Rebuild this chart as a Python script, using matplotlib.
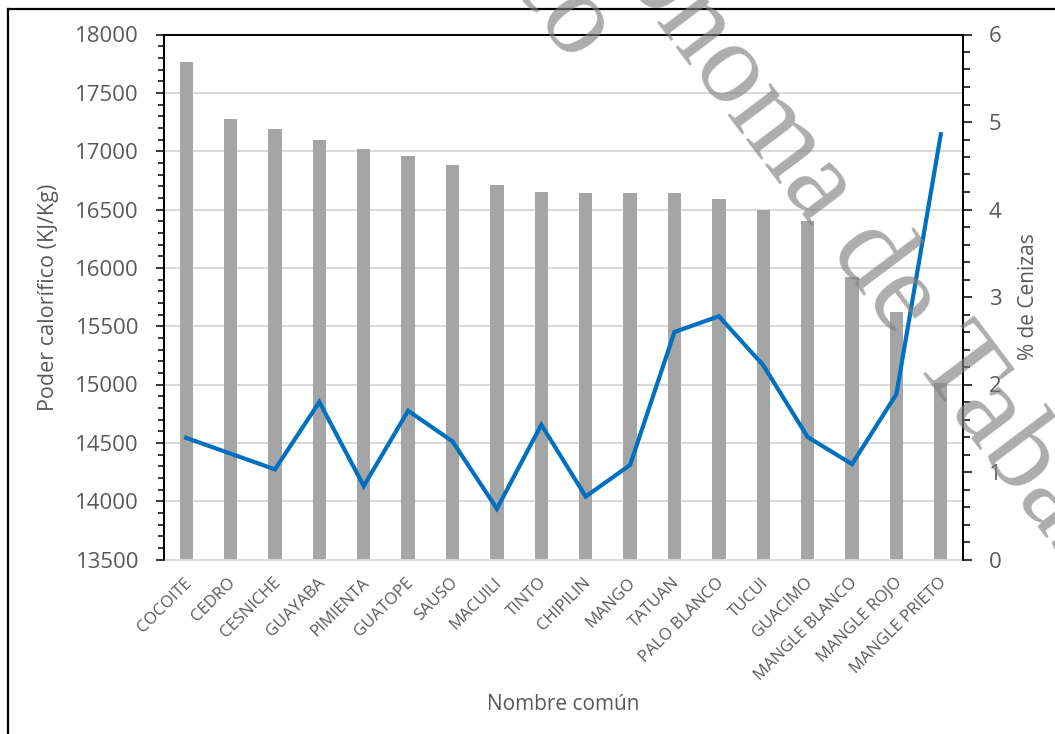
import numpy as np
import matplotlib.pyplot as plt
from matplotlib.lines import Line2D
from matplotlib.ticker import MultipleLocator

plt.rcParams['font.family'] = ['Open Sans', 'DejaVu Sans']

especies = ['COCOITE', 'CEDRO', 'CESNICHE', 'GUAYABA', 'PIMIENTA', 'GUATOPE',
            'SAUSO', 'MACUILI', 'TINTO', 'CHIPILIN', 'MANGO', 'TATUAN',
            'PALO BLANCO', 'TUCUI', 'GUACIMO', 'MANGLE BLANCO', 'MANGLE ROJO',
            'MANGLE PRIETO']
poder_calorifico = [17762, 17273, 17187, 17096, 17019, 16959, 16882, 16713,
                    16653, 16644, 16644, 16644, 16593, 16498, 16399, 15919,
                    15619, 15010]
cenizas = [1.39, 1.21, 1.03, 1.80, 0.84, 1.70, 1.35, 0.58, 1.54, 0.72, 1.08,
           2.60, 2.78, 2.22, 1.40, 1.09, 1.89, 4.86]

gris_texto = '#595959'
gris_grid = '#D9D9D9'

W, H = 1055, 734
fig = plt.figure(figsize=(W / 100, H / 100), dpi=100)
ax = fig.add_axes([164 / W, 1 - 559.5 / H, (963 - 164) / W, (559.5 - 34.5) / H])

x = np.arange(len(especies))
ax.bar(x, poder_calorifico, width=0.3, color='#A5A5A5', zorder=2)
ax.set_ylim(13500, 18000)
ax.set_xlim(-0.5, len(especies) - 0.5)
ax.yaxis.set_major_locator(MultipleLocator(500))
ax.yaxis.set_minor_locator(MultipleLocator(100))
ax.grid(axis='y', color=gris_grid, linewidth=1.4, zorder=0)
ax.set_axisbelow(True)

ax.set_xticks(x)
ax.set_xticklabels([])
ax.tick_params(axis='x', length=0)
for xi, nombre in zip(x, especies):
    ax.annotate(nombre, xy=(xi, 0), xycoords=ax.get_xaxis_transform(),
                xytext=(-2, -11), textcoords='offset points',
                rotation=45, rotation_mode='anchor', ha='right', va='top',
                fontsize=12, color=gris_texto)

ax.tick_params(axis='y', which='major', direction='out', length=6, width=1.1,
               labelsize=16, labelcolor=gris_texto, pad=12)
ax.tick_params(axis='y', which='minor', direction='out', length=4.5, width=1.1)
ax.set_ylabel('Poder calorífico (KJ/Kg)', fontsize=15.5, color=gris_texto, labelpad=12)
ax.set_xlabel('Nombre común', fontsize=15, color=gris_texto, labelpad=93)

for lado in ['left', 'top', 'right']:
    ax.spines[lado].set_color('black')
    ax.spines[lado].set_linewidth(1.3)
ax.spines['bottom'].set_color(gris_grid)
ax.spines['bottom'].set_linewidth(1.4)

ax2 = ax.twinx()
ax2.plot(x, cenizas, color='#0070C0', linewidth=3, solid_joinstyle='miter', zorder=3)
ax2.set_ylim(0, 6)
ax2.yaxis.set_major_locator(MultipleLocator(1))
ax2.yaxis.set_minor_locator(MultipleLocator(0.2))
ax2.tick_params(axis='y', which='major', direction='out', length=6.5, width=1.1,
                labelsize=16, labelcolor=gris_texto, pad=12)
ax2.tick_params(axis='y', which='minor', direction='out', length=5, width=1.1)
ax2.set_ylabel('% de Cenizas', fontsize=15, color=gris_texto, labelpad=12)
for lado in ['left', 'top', 'right']:
    ax2.spines[lado].set_color('black')
    ax2.spines[lado].set_linewidth(1.3)
ax2.spines['bottom'].set_visible(False)

# marco exterior del grafico
fig.add_artist(Line2D([8 / W, 8 / W], [0, 1 - 9 / H], color='black', linewidth=1.6))
fig.add_artist(Line2D([8 / W, 1], [1 - 9 / H, 1 - 9 / H], color='black', linewidth=1.6))

# marca de agua
fig.text(850 / W, 1 - 232 / H, 'Autónoma de Tabasco', family='Liberation Serif',
         fontsize=84, color='gray', alpha=0.65, rotation=-53,
         rotation_mode='anchor', ha='center', va='center', zorder=10)
fig.text(592 / W, 1 - 50 / H, 'México', family='Liberation Serif',
         fontsize=84, color='gray', alpha=0.65, rotation=-53,
         rotation_mode='anchor', ha='right', va='center', zorder=10)

fig.savefig('out.png', dpi=100)
